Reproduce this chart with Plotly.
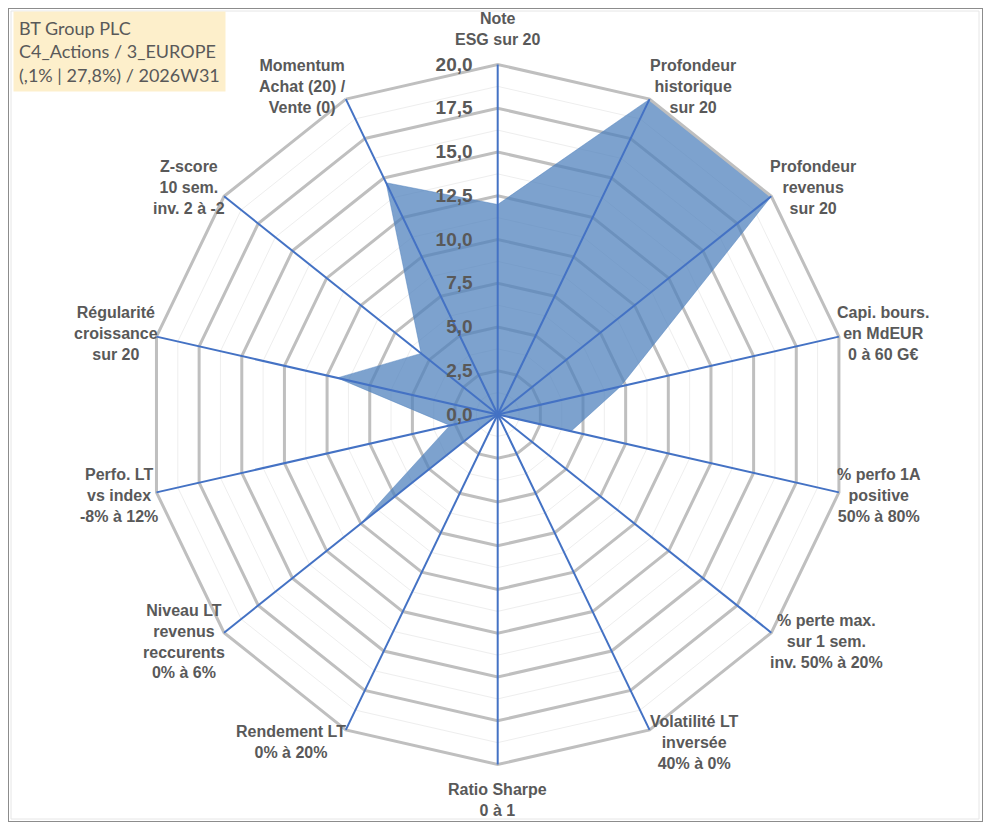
import math
import plotly.graph_objects as go

# axes of the radar, clockwise from the top
categories = [
    "Note<br>ESG sur 20",
    "Profondeur<br>historique<br>sur 20",
    "Profondeur<br>revenus<br>sur 20",
    "Capi. bours.<br>en MdEUR<br>0 à 60 G€",
    "% perfo 1A<br>positive<br>50% à 80%",
    "% perte max.<br>sur 1 sem.<br>inv. 50% à 20%",
    "Volatilité LT<br>inversée<br>40% à 0%",
    "Ratio Sharpe<br>0 à 1",
    "Rendement LT<br>0% à 20%",
    "Niveau LT<br>revenus<br>reccurents<br>0% à 6%",
    "Perfo. LT<br>vs index<br>-8% à 12%",
    "Régularité<br>croissance<br>sur 20",
    "Z-score<br>10 sem.<br>inv. 2 à -2",
    "Momentum<br>Achat (20) /<br>Vente (0)",
]
scores = [12.0, 20.0, 20.0, 7.2, 4.3, 0.0, 6.0, 0.0, 0.0, 10.1, 2.8, 9.4, 5.6, 14.7]

title_lines = ["BT Group PLC", "C4_Actions / 3_EUROPE", "(,1% | 27,8%) / 2026W31"]

GREY_TXT = "#595959"
BLUE = "#4472C4"
FONT = "Liberation Sans"

W, H = 975, 814            # page body has an 8px margin
CX, CY, RAD = 489.7, 406.5, 350   # radar centre / radius in figure pixels

theta = categories + categories[:1]
r = scores + scores[:1]

fig = go.Figure()

# invisible traces so each polar layer knows its categories
for sp in ["polar", "polar3"]:
    fig.add_trace(go.Scatterpolar(r=[0] * len(categories), theta=categories, subplot=sp,
                                  mode="lines", line=dict(width=0), hoverinfo="skip",
                                  showlegend=False))

fig.add_trace(go.Scatterpolar(r=r, theta=theta, subplot="polar2", mode="lines",
                              fill="toself", fillcolor="rgba(79,129,189,0.74)",
                              line=dict(color="rgba(79,129,189,0.9)", width=0.5),
                              showlegend=False, name="BT Group PLC"))

dom = dict(x=[(CX - RAD) / W, (CX + RAD) / W], y=[(H - CY - RAD) / H, (H - CY + RAD) / H])
ang_common = dict(direction="clockwise", rotation=90, type="category",
                  categoryarray=categories)

fig.update_layout(
    width=W, height=H,
    margin=dict(l=0, r=0, t=0, b=0),
    paper_bgcolor="white",
    separators=", ",
    font=dict(family=FONT, color=GREY_TXT),
    showlegend=False,
    # light minor rings
    polar=dict(
        domain=dom, gridshape="linear", bgcolor="white",
        radialaxis=dict(range=[0, 20], dtick=1.25, gridcolor="#EEEEEE", gridwidth=1,
                        showticklabels=False, showline=False, ticks=""),
        angularaxis=dict(showgrid=False, showticklabels=False, showline=False,
                         ticks="", **ang_common),
    ),
    # major grey rings + filled series
    polar2=dict(
        domain=dom, gridshape="linear", bgcolor="rgba(0,0,0,0)",
        radialaxis=dict(range=[0, 20], dtick=2.5, gridcolor="#BFBFBF", gridwidth=3,
                        showticklabels=False, showline=False, ticks=""),
        angularaxis=dict(showgrid=False, showticklabels=False, showline=True,
                         linecolor="#BFBFBF", linewidth=3, ticks="", **ang_common),
    ),
    # blue spokes and value labels on top
    polar3=dict(
        domain=dom, gridshape="linear", bgcolor="rgba(0,0,0,0)",
        radialaxis=dict(range=[0, 20], dtick=2.5, tickformat=".1f", angle=90,
                        tickangle=90, side="counterclockwise", showgrid=False,
                        showline=False, ticks="outside", ticklen=18,
                        tickcolor="rgba(0,0,0,0)",
                        tickfont=dict(size=19, color=GREY_TXT, family=FONT, weight="bold")),
        angularaxis=dict(showgrid=True, gridcolor=BLUE, gridwidth=1.5, showline=False,
                         showticklabels=False, ticks="", **ang_common),
    ),
)

# category labels, centred text placed just outside each vertex
n = len(categories)
for k, lab in enumerate(categories):
    a = math.radians(k * 360 / n)
    s, c = math.sin(a), math.cos(a)
    x = CX + s * (RAD - 4)
    y = CY - c * (RAD + 14)
    if abs(s) < 0.1:
        xa, ya = "center", ("bottom" if c > 0 else "top")
    else:
        xa, ya = ("left" if s > 0 else "right"), "middle"
    fig.add_annotation(xref="paper", yref="paper", x=x / W, y=1 - y / H,
                       xanchor=xa, yanchor=ya, align="center", showarrow=False,
                       text=lab, font=dict(family=FONT, size=16, color=GREY_TXT,
                                           weight="bold"))

fig.add_annotation(xref="paper", yref="paper", x=5 / W, y=1 - 3 / H,
                   xanchor="left", yanchor="top", align="left", showarrow=False,
                   text="<br>".join(title_lines), bgcolor="#FDEFCB", borderpad=5,
                   font=dict(family="Lato", size=18, color=GREY_TXT))

# chart area frame
fig.add_shape(type="rect", xref="paper", yref="paper", x0=0, y0=0, x1=1, y1=1,
              line=dict(color="#8C8C8C", width=2))
fig.add_shape(type="rect", xref="paper", yref="paper", x0=3 / W, y0=3 / H,
              x1=(W - 4) / W, y1=1 - 3 / H, line=dict(color="#E6E6E6", width=1))

fig.write_html("out.html")
